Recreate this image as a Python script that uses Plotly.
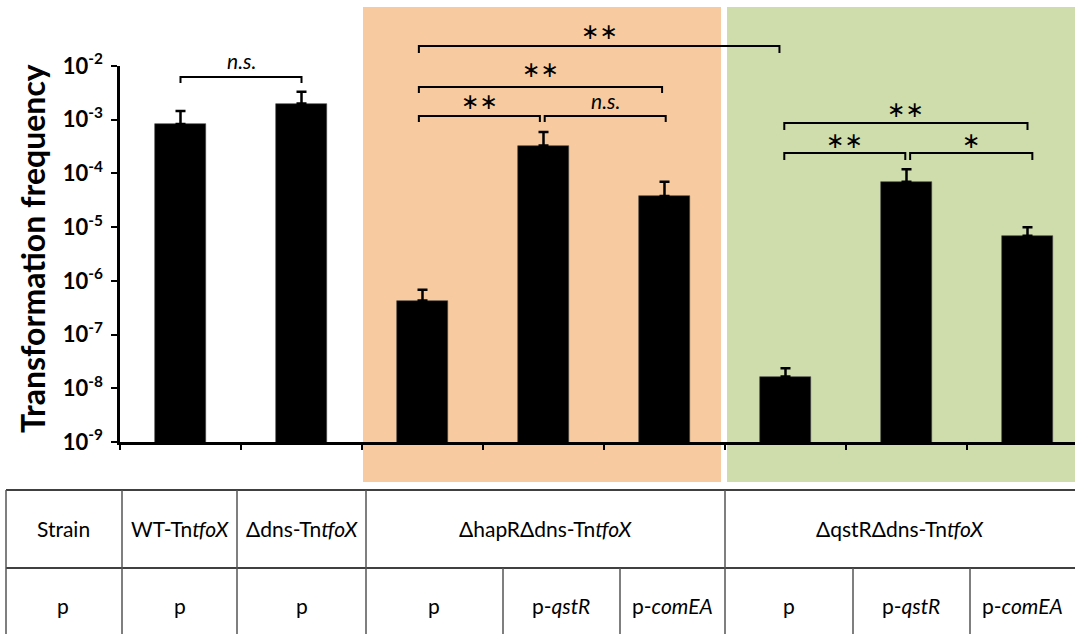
import plotly.graph_objects as go

# ---- data ----
strains = ["WT-Tn<i>tfoX</i>", "Δdns-Tn<i>tfoX</i>",
           "ΔhapRΔdns-Tn<i>tfoX</i>", "ΔqstRΔdns-Tn<i>tfoX</i>"]
plasmids = ["p", "p", "p", "p-<i>qstR</i>", "p-<i>comEA</i>",
            "p", "p-<i>qstR</i>", "p-<i>comEA</i>"]
freq = [8.3e-4, 2.0e-3, 4.3e-7, 3.3e-4, 3.8e-5, 1.65e-8, 7.0e-5, 6.9e-6]
freq_upper = [1.45e-3, 3.3e-3, 6.8e-7, 5.9e-4, 7.0e-5, 2.35e-8, 1.2e-4, 1.0e-5]
tick_exp = [-2, -3, -4, -5, -6, -7, -8, -9]

# ---- layout geometry (pixels) ----
W, H = 1075, 634
L, R, T, B = 120, 0, 66, 192
PW, PH = W - L - R, H - T - B
CAT_PX = 121                      # width of one category on the x axis
XMIN = -0.5
XMAX = XMIN + PW / CAT_PX

def px(x):                        # pixel x -> paper x
    return (x - L) / PW

def py(y):                        # pixel y -> paper y
    return (T + PH - y) / PH

def cx(i):                        # category position -> paper x
    return (i - XMIN) / (XMAX - XMIN)

FONT = "Lato"
ORANGE = "#F7CB9F"
GREEN = "#CFDCAC"

x = list(range(len(freq)))
fig = go.Figure()
fig.add_trace(go.Bar(
    x=x, y=freq, width=0.42,
    marker=dict(color="black", line=dict(color="#444", width=0.6)),
    error_y=dict(type="data", symmetric=False,
                 array=[u - v for u, v in zip(freq_upper, freq)],
                 arrayminus=[0] * len(freq),
                 color="black", thickness=2.5, width=5),
    showlegend=False,
))

shapes = []
annotations = []

# background panels for the two mutant groups
shapes.append(dict(type="rect", xref="paper", yref="paper", layer="below",
                   x0=px(363), x1=px(721), y0=py(482), y1=py(7),
                   fillcolor=ORANGE, line=dict(width=0)))
shapes.append(dict(type="rect", xref="paper", yref="paper", layer="below",
                   x0=px(727), x1=1.0, y0=py(482), y1=py(7),
                   fillcolor=GREEN, line=dict(width=0)))

# significance brackets: (left pos, right pos, bar y px, tip y px, label, label y px)
brackets = [
    (0.0, 1.0, 77, 83, "n.s.", 61),
    (1.97, 4.95, 46, 53, "∗∗", 32),
    (1.97, 3.98, 87, 93, "∗∗", 69),
    (1.97, 2.97, 116, 122, "∗∗", 102),
    (3.01, 4.01, 116, 122, "n.s.", 100),
    (4.99, 7.0, 123, 130, "∗∗", 109),
    (4.99, 5.99, 153, 160, "∗∗", 140),
    (6.03, 7.04, 153, 160, "∗", 140),
]
for x0, x1, yb, yt, lab, ly in brackets:
    a, b = cx(x0), cx(x1)
    shapes.append(dict(type="path", xref="paper", yref="paper",
                       path=f"M{a},{py(yt)} L{a},{py(yb)} L{b},{py(yb)} L{b},{py(yt)}",
                       line=dict(color="black", width=2)))
    if lab == "n.s.":
        txt, size, fam = "<i>n.s.</i>", 21, FONT
    else:
        txt, size, fam = lab, 22, "DejaVu Sans"
    annotations.append(dict(xref="paper", yref="paper", x=(a + b) / 2, y=py(ly),
                            text=txt, showarrow=False, xanchor="center", yanchor="middle",
                            font=dict(family=fam, size=size, color="black")))

# y-axis title
annotations.append(dict(xref="paper", yref="paper", x=px(32), y=py(249),
                        text="<b>Transformation frequency</b>", textangle=-90,
                        showarrow=False, xanchor="center", yanchor="middle",
                        font=dict(family=FONT, size=32, color="black")))

# ---- table below the axis ----
TOP, MID, BOT = 490, 568, 640
tline = dict(color="black", width=1.5)
vline = dict(color="#555555", width=1.5)
shapes.append(dict(type="line", xref="paper", yref="paper",
                   x0=px(6), x1=1.0, y0=py(TOP), y1=py(TOP), line=tline))
shapes.append(dict(type="line", xref="paper", yref="paper",
                   x0=px(6), x1=1.0, y0=py(MID), y1=py(MID), line=tline))
for xv in [6, 122, 237, 366, 725]:
    shapes.append(dict(type="line", xref="paper", yref="paper",
                       x0=px(xv), x1=px(xv), y0=py(TOP), y1=py(BOT), line=vline))
for xv in [503, 620, 853, 970]:
    shapes.append(dict(type="line", xref="paper", yref="paper",
                       x0=px(xv), x1=px(xv), y0=py(MID), y1=py(BOT), line=vline))

row1 = [("Strain", 63)] + list(zip(strains, [180, 302, 545, 900]))
row2 = [("p", 63)] + list(zip(plasmids, [180, 302, 434, 561, 672, 789, 911, 1022]))
for txt, xc in row1:
    annotations.append(dict(xref="paper", yref="paper", x=px(xc), y=py(528),
                            text=txt, showarrow=False, xanchor="center", yanchor="middle",
                            font=dict(family=FONT, size=21, color="black")))
for txt, xc in row2:
    annotations.append(dict(xref="paper", yref="paper", x=px(xc), y=py(605),
                            text=txt, showarrow=False, xanchor="center", yanchor="middle",
                            font=dict(family=FONT, size=21, color="black")))

fig.update_layout(
    width=W, height=H,
    margin=dict(l=L, r=R, t=T, b=B, pad=0),
    paper_bgcolor="white", plot_bgcolor="rgba(0,0,0,0)",
    shapes=shapes, annotations=annotations,
    font=dict(family=FONT, color="black", size=16),
    bargap=0,
)
fig.update_xaxes(
    range=[XMIN, XMAX], showgrid=False, zeroline=False,
    showline=True, linecolor="black", linewidth=2.5,
    tickmode="array", tickvals=[i - 0.5 for i in range(9)],
    ticks="outside", ticklen=5, tickwidth=2, tickcolor="black",
    showticklabels=False,
)
fig.update_yaxes(
    type="log", range=[-9, -2], showgrid=False, zeroline=False,
    showline=True, linecolor="black", linewidth=2.5,
    tickmode="array", tickvals=[10.0 ** e for e in tick_exp],
    ticktext=[f"<b>10<sup>{e}</sup></b>" for e in tick_exp],
    ticks="outside", ticklen=6, tickwidth=2, tickcolor="black",
    ticklabelstandoff=4,
    tickfont=dict(family=FONT, size=22, color="black"),
)

fig.write_html("out.html")
